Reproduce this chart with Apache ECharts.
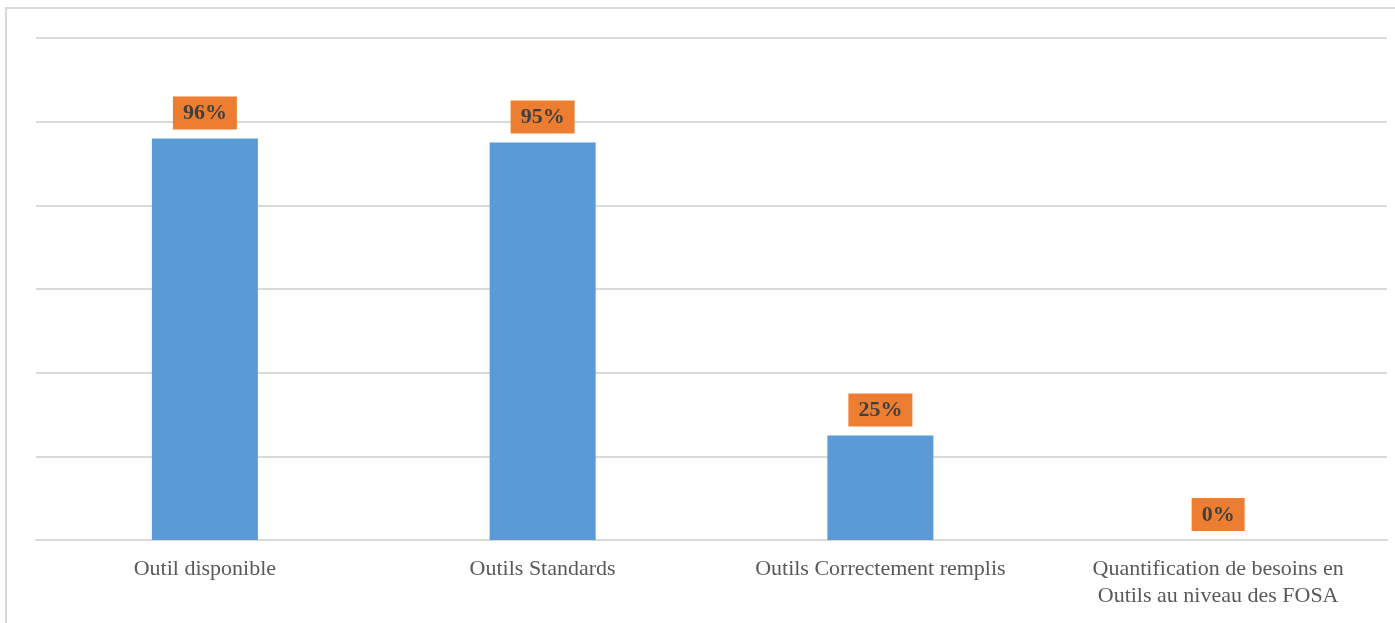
<!DOCTYPE html>
<html>

<head>
  <meta charset="utf-8">
  <script src="https://cdn.jsdelivr.net/npm/echarts@6/dist/echarts.min.js"></script>
  <style>
    html,
    body {
      margin: 0;
      padding: 0;
      background: #fff;
    }

    #chart {
      width: 1395px;
      height: 623px;
    }
  </style>
</head>

<body>
  <div id="chart"></div>
  <script>
    // données
    const categories = [
      'Outil disponible',
      'Outils Standards',
      'Outils Correctement remplis',
      'Quantification de besoins en\nOutils au niveau des FOSA'
    ]
    const values = [96, 95, 25, 0]

    const option = {
      animation: false,
      graphic: [{
        type: 'rect',
        shape: { x: 6, y: 8, width: 1400, height: 630 },
        style: { fill: 'none', stroke: '#d9d9d9', lineWidth: 2 },
        silent: true
      }],
      grid: {
        left: 36,
        right: 8,
        top: 38,
        bottom: 83
      },
      xAxis: {
        type: 'category',
        data: categories,
        axisLine: { lineStyle: { color: '#d9d9d9', width: 2 } },
        axisTick: { show: false },
        axisLabel: {
          color: '#595959',
          fontFamily: 'Liberation Serif',
          fontSize: 22,
          lineHeight: 27,
          margin: 16,
          interval: 0
        }
      },
      yAxis: {
        type: 'value',
        min: 0,
        max: 120,
        interval: 20,
        axisLabel: { show: false },
        axisLine: { show: false },
        axisTick: { show: false },
        splitLine: { lineStyle: { color: '#d9d9d9', width: 2 } }
      },
      series: [{
        type: 'bar',
        data: values,
        barWidth: 106,
        itemStyle: { color: '#5B9BD5' },
        label: {
          show: true,
          position: 'top',
          distance: 9,
          formatter: '{c}%',
          fontFamily: 'Liberation Serif',
          fontSize: 22,
          fontWeight: 'bold',
          color: '#404040',
          backgroundColor: '#ED7D31',
          padding: [6, 10, 5, 10]
        }
      }]
    }

    const chart = echarts.init(document.querySelector('#chart'))
    chart.setOption(option)
  </script>
</body>

</html>
